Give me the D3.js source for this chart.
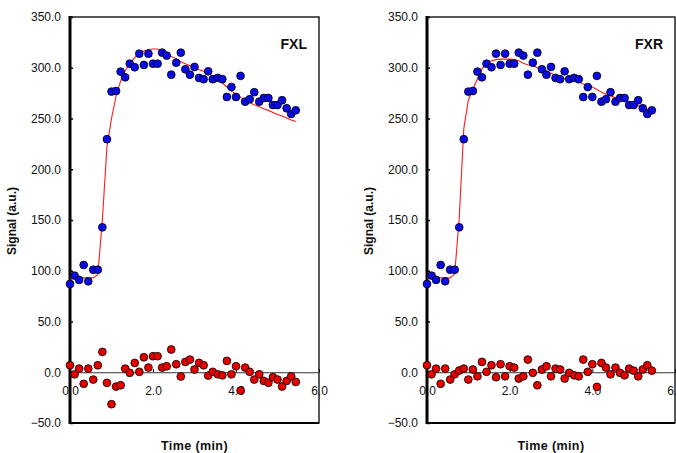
<!DOCTYPE html>
<html>
<head>
<meta charset="utf-8">
<script src="https://cdn.jsdelivr.net/npm/d3@7"></script>
<style>
  html, body { margin: 0; padding: 0; background: #fff; }
  svg { display: block; font-family: "Liberation Sans", Arial, sans-serif; }
</style>
</head>
<body>
<svg id="chart" width="676" height="453"></svg>
<script>
// ---- data ----
const time = [0.00,0.11,0.22,0.33,0.44,0.56,0.67,0.78,0.89,1.00,1.11,1.22,1.33,1.44,1.56,1.67,1.78,1.89,2.00,2.11,2.22,2.33,2.44,2.56,2.67,2.78,2.89,3.00,3.11,3.22,3.33,3.44,3.56,3.67,3.78,3.89,4.00,4.11,4.22,4.33,4.44,4.56,4.67,4.78,4.89,5.00,5.11,5.22,5.33,5.44];

const signalFXL = [87.0,95.2,91.0,105.7,89.6,101.0,101.0,142.8,229.6,276.5,277.1,296.2,290.6,304.0,300.5,313.9,302.8,313.9,304.0,304.0,314.9,312.0,293.2,305.0,314.9,298.5,293.2,300.8,290.0,288.7,296.5,288.7,290.0,288.7,271.2,281.0,271.2,292.0,266.6,269.0,275.9,266.6,270.2,270.2,263.3,263.3,268.0,260.1,254.5,258.1];
const signalFXR = signalFXL.slice();

const fitFXL = [93,93,93,93,93,93,96,150,222,250,272,287,297,304,310,314,316.5,318,318.5,318.5,317,315,311,309,306,304,302,300,298,296.5,294.5,292,289,285,281,277,274,271,268,265.5,263.5,261.5,259.5,258,256,254,252.5,250.5,248.5,247];
const fitFXR = [93,93,93,93,93,93,97,152,240,268,279,289,299,304,307,308,308.5,308.5,308.5,308,307,304.5,303,302,300,298,296.5,294.5,292.5,291,289.5,288,287,286,284,282.5,281,278.5,276,274,272.5,270.5,269,267.5,266,264,262.5,260.5,259,257.5];

const residFXL = [6.9,-2,3.6,-11.4,3.6,-7.2,6.9,20.1,-10.4,-31.5,-14.1,-12.8,3.6,-0.6,9.2,0.4,14.8,4.6,15.8,15.8,4.6,5.9,22.4,7.9,-4.2,10.2,12.5,2.7,9.2,6.9,-3.3,0.4,-2,-3,11.2,-2,5.9,-18,4.6,0.4,-7.2,-2,-8.5,-10.4,-4.9,-7.2,-14.1,-8.5,-4,-9.5];
const residFXR = [6.9,-2,3.6,-11.4,3.6,-7.2,-2,1.7,3.6,-7.2,2.7,-4,10.2,0.4,6.9,-4.9,7.9,-4,5.9,4.6,-6.2,-4,12.5,-0.6,-12.8,2.7,5.9,-4,3.6,2.7,-6.2,-0.6,-3,-4,12.5,0.4,7.9,-14.4,9.2,4.6,-2,4.6,-0.6,-3,3.6,1.6,-4,2.7,6.9,1.6];

const yTicks = [-50,0,50,100,150,200,250,300,350];
const xTicks = [0,2,4,6];
const panelNames = ["FXL","FXR"];
const yTitle = "Signal (a.u.)";
const xTitle = "Time (min)";

// ---- drawing ----
const svg = d3.select("#chart");
const panels = [
  {name: panelNames[0], sig: signalFXL, fit: fitFXL, res: residFXL, left: 70, right: 319},
  {name: panelNames[1], sig: signalFXR, fit: fitFXR, res: residFXR, left: 427, right: 675}
];
const plotTop = 17, plotBottom = 423;
const blue = "#0a0ae6", red = "#e60000";

panels.forEach(p => {
  const x = d3.scaleLinear().domain([0, 6]).range([p.left, p.right]);
  const y = d3.scaleLinear().domain([-50, 350]).range([plotBottom, plotTop]);
  const g = svg.append("g");

  // frame
  g.append("rect").attr("x", p.left).attr("y", plotTop)
    .attr("width", p.right - p.left).attr("height", plotBottom - plotTop)
    .attr("fill", "none").attr("stroke", "#000").attr("stroke-width", 1.3);

  // zero axis with x ticks
  const xa = g.append("g").attr("transform", `translate(0,${y(0)})`)
    .call(d3.axisBottom(x).tickValues(xTicks).tickSizeInner(-3).tickSizeOuter(0)
      .tickPadding(14).tickFormat(d3.format(".1f")));
  xa.select(".domain").attr("stroke", "#333").attr("stroke-width", 1);
  xa.selectAll(".tick line").attr("stroke", "#000").attr("stroke-width", 1);
  xa.selectAll("text").attr("font-size", 12).attr("fill", "#111")
    .attr("font-family", "Liberation Sans, Arial, sans-serif");

  // y axis
  const ya = g.append("g").attr("transform", `translate(${p.left},0)`)
    .call(d3.axisLeft(y).tickValues(yTicks).tickSizeInner(-3).tickSizeOuter(0)
      .tickPadding(9).tickFormat(d3.format(".1f")));
  ya.select(".domain").remove();
  ya.selectAll(".tick line").attr("stroke", "#000").attr("stroke-width", 1.5);
  ya.selectAll("text").attr("font-size", 12).attr("fill", "#111")
    .attr("font-family", "Liberation Sans, Arial, sans-serif");

  // heavy left & bottom axis lines
  g.append("line").attr("x1", p.left).attr("x2", p.left).attr("y1", plotTop - 1).attr("y2", plotBottom + 1)
    .attr("stroke", "#000").attr("stroke-width", 3);
  g.append("line").attr("x1", p.left).attr("x2", p.right).attr("y1", plotBottom).attr("y2", plotBottom)
    .attr("stroke", "#000").attr("stroke-width", 2.2);

  // fit line
  g.append("path").datum(p.fit.map((v, i) => [time[i], v]))
    .attr("fill", "none").attr("stroke", "#ff1a1a").attr("stroke-width", 1.1)
    .attr("d", d3.line().x(d => x(d[0])).y(d => y(d[1])));

  // signal points
  g.append("g").selectAll("circle").data(p.sig).join("circle")
    .attr("cx", (d, i) => x(time[i])).attr("cy", d => y(d)).attr("r", 3.9)
    .attr("fill", blue).attr("stroke", "#000").attr("stroke-width", 0.8);

  // residual points
  g.append("g").selectAll("circle").data(p.res).join("circle")
    .attr("cx", (d, i) => x(time[i])).attr("cy", d => y(d)).attr("r", 3.9)
    .attr("fill", red).attr("stroke", "#000").attr("stroke-width", 0.8);

  // panel label
  g.append("text").attr("x", p.right - 12).attr("y", 49).attr("text-anchor", "end")
    .attr("font-size", 14).attr("font-weight", "bold").attr("fill", "#111").text(p.name);

  // axis titles
  g.append("text").attr("transform", `translate(${p.left - 54},${(plotTop + plotBottom) / 2 + 1}) rotate(-90)`)
    .attr("text-anchor", "middle").attr("font-size", 12).attr("font-weight", "bold")
    .attr("fill", "#111").text(yTitle);
  g.append("text").attr("x", (p.left + p.right) / 2).attr("y", 450)
    .attr("text-anchor", "middle").attr("font-size", 12.5).attr("font-weight", "bold")
    .attr("letter-spacing", "0.4px").attr("fill", "#111").text(xTitle);
});
</script>
</body>
</html>
